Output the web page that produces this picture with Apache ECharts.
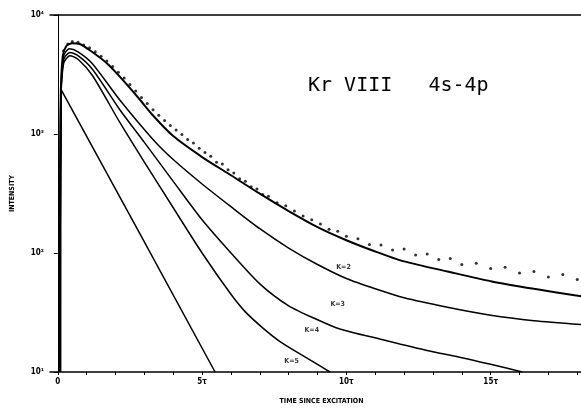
<!DOCTYPE html>
<html><head><meta charset="utf-8">
<script src="https://cdn.jsdelivr.net/npm/echarts@6/dist/echarts.min.js"></script>
<style>html,body{margin:0;padding:0;background:#fff}#c{width:581px;height:410px}</style>
</head><body><div id="c"></div><script>
// tick labels
const xTickValues = [0, 5, 10, 15];
const xTickLabels = ['0', '5τ', '10τ', '15τ'];
const xMinorTicks = [0,1,2,3,4,5,6,7,8,9,10,11,12,13,14,15,16,17,18];
const yTickLabels = {10: '10¹', 100: '10²', 1000: '10³', 10000: '10⁴'};

// curves [time in tau, intensity]
const curveK1 = [[0.1, 10], [0.12, 2350], [5.45, 10]];
const curveK2 = [[0.06, 10], [0.1, 1900], [0.17, 4500], [0.3, 5500], [0.5, 5800], [0.76, 5700], [1.11, 5050], [1.7, 3930], [2.25, 2850], [2.84, 1950], [3.3, 1430], [4, 960], [5, 640], [6, 450], [7, 315], [8, 225], [9, 165], [10, 128], [11, 103], [12, 85], [13.5, 70], [15, 58], [16.5, 50], [18.2, 43]];
const curveK3 = [[0.06, 10], [0.1, 1800], [0.2, 4500], [0.4, 5200], [0.7, 4900], [1.2, 3900], [2.15, 1930], [3.3, 900], [4, 610], [5, 380], [6, 245], [7, 160], [8, 110], [9, 80], [10, 61], [11, 50], [12, 42], [13.5, 35], [15, 30], [16.5, 27], [18.2, 25]];
const curveK4 = [[0.06, 10], [0.1, 1700], [0.2, 4200], [0.42, 4850], [0.7, 4550], [1.2, 3500], [2.15, 1600], [3, 850], [4, 400], [5, 190], [6, 100], [7, 55], [8, 36], [9, 27.5], [9.77, 23], [11.16, 18.9], [11.85, 17.2], [13, 14.8], [14, 13.2], [15, 11.6], [16.1, 10]];
const curveK5 = [[0.06, 10], [0.1, 1600], [0.2, 3900], [0.42, 4550], [0.7, 4250], [1.2, 3100], [2.15, 1250], [3, 580], [4, 240], [5, 100], [6, 45], [6.5, 32], [7.1, 23.5], [7.7, 18], [8.39, 14.2], [9, 11.6], [9.43, 10]];

// measured points
const dots = [[0.2,5000],[0.35,5700],[0.5,6000],[0.7,5900],[0.9,5600],[1.1,5300],[1.3,4900],[1.5,4500],[1.7,4100],[1.9,3700],[2.1,3300],[2.3,2950],[2.5,2600],[2.7,2300],[2.9,2030],[3.1,1800],[3.3,1600],[3.5,1440],[3.7,1300],[3.9,1180],[4.1,1080],[4.3,990],[4.5,900],[4.7,840],[4.9,760],[5.1,700],[5.3,650],[5.5,580],[5.7,560],[5.9,500],[6.1,470],[6.3,420],[6.5,400],[6.7,360],[6.9,345],[7.1,310],[7.3,300],[7.6,265],[7.9,250],[8.2,225],[8.5,205],[8.8,190],[9.1,175],[9.4,158],[9.7,152],[10,138],[10.4,132],[10.8,118],[11.2,117],[11.6,106],[12,108],[12.4,96],[12.8,98],[13.2,88],[13.6,90],[14,80],[14.5,82],[15,74],[15.5,76],[16,68],[16.5,70],[17,63],[17.5,66],[18,60]];

// curve labels
const kLabels = [['K=2', 9.9, 76], ['K=3', 9.7, 37], ['K=4', 8.8, 22.5], ['K=5', 8.1, 12.4]];

const chart = echarts.init(document.getElementById('c'));
function lineSeries(data, w) {
  return {type: 'line', data: data, symbol: 'none', smooth: 0.25, lineStyle: {color: '#000', width: w}, z: 2, clip: true};
}
const font = 'Liberation Sans Narrow, DejaVu Sans Condensed, sans-serif';
chart.setOption({
  animation: false,
  backgroundColor: '#fff',
  grid: {left: 50, right: 0, top: 15, bottom: 37, show: false},
  xAxis: [{
    type: 'value', min: -0.27, max: 18.13, position: 'bottom',
    axisLine: {lineStyle: {color: '#000', width: 1.5}},
    axisTick: {show: true, inside: false, length: 3, customValues: xMinorTicks, lineStyle: {color: '#000'}},
    axisLabel: {customValues: xTickValues, color: '#000', fontSize: 8, fontWeight: 'bold', fontFamily: font, margin: 6,
      formatter: v => xTickLabels[xTickValues.indexOf(v)]},
    splitLine: {show: false},
    name: 'TIME SINCE EXCITATION', nameLocation: 'middle', nameGap: 26,
    nameTextStyle: {color: '#000', fontSize: 7, fontWeight: 'bold', fontFamily: font, padding: [0, 0, 0, 12]}
  }, {
    type: 'value', min: -0.27, max: 18.13, position: 'top',
    axisLine: {show: true, lineStyle: {color: '#000', width: 1.5}},
    axisTick: {show: false}, axisLabel: {show: false}, splitLine: {show: false}
  }],
  yAxis: {
    type: 'log', logBase: 10, min: 10, max: 10000,
    axisLine: {show: true, lineStyle: {color: '#000', width: 1}},
    axisTick: {show: true, length: 4, lineStyle: {color: '#000'}},
    minorTick: {show: false},
    axisLabel: {color: '#000', fontSize: 8, fontWeight: 'bold', fontFamily: font, margin: 6,
      formatter: v => yTickLabels[Math.round(v)] || ''},
    splitLine: {show: false},
    name: 'INTENSITY', nameLocation: 'middle', nameGap: 34, nameRotate: 90,
    nameTextStyle: {color: '#000', fontSize: 7, fontWeight: 'bold', fontFamily: font}
  },
  series: [
    lineSeries(curveK1, 1.5),
    lineSeries(curveK2, 2),
    lineSeries(curveK3, 1.5),
    lineSeries(curveK4, 1.5),
    lineSeries(curveK5, 1.5),
    {type: 'scatter', data: dots, symbol: 'circle', symbolSize: 3, itemStyle: {color: '#000'}, z: 3},
    {type: 'scatter', data: kLabels.map(k => ({value: [k[1], k[2]], name: k[0]})), symbolSize: 0,
      label: {show: true, formatter: p => p.name, color: '#000', fontSize: 7, fontWeight: 'bold', fontFamily: font, position: 'inside'}, z: 4}
  ],
  graphic: [{
    type: 'text', left: 308, top: 76,
    style: {text: 'Kr VIII   4s-4p', font: '20px "DejaVu Sans Mono", monospace', fill: '#000'}
  }]
});
</script></body></html>
